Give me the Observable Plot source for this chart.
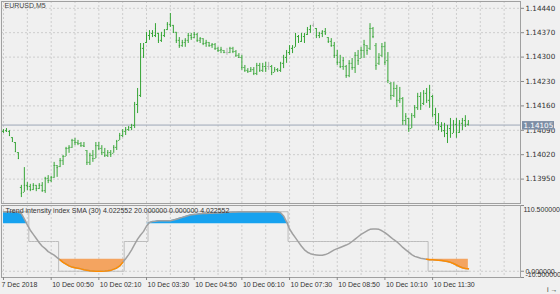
<!DOCTYPE html>
<html><head><meta charset="utf-8">
<script src="https://cdn.jsdelivr.net/npm/d3@7"></script>
<script src="https://cdn.jsdelivr.net/npm/@observablehq/plot@0.6"></script>
<style>
html,body{margin:0;padding:0;background:#f0f0f0;}
#chart{position:relative;width:560px;height:294px;overflow:hidden;}
#chart svg{position:absolute;left:0;}
</style></head><body><div id="chart"></div>
<script>
const symbolLabel = "EURUSD,M5";
const indicatorLabel = "Trend intensity index SMA (30) 4.022552 20.000000 0.000000 4.022552";

const open = [
1.14087,1.14089,1.14087,1.14069,1.14055,1.14026,1.13926,1.13912,1.13932,1.13929,
1.13920,1.13932,1.13923,1.13932,1.13917,1.13952,1.13946,1.13955,1.13989,1.13986,
1.14003,1.14015,1.14038,1.14041,1.14061,1.14055,1.14052,1.14046,1.14032,1.13998,
1.14018,1.14009,1.14046,1.14038,1.14026,1.14018,1.14026,1.14024,1.14041,1.14061,
1.14075,1.14087,1.14092,1.14098,1.14104,1.14164,1.14190,1.14325,1.14342,1.14362,
1.14368,1.14362,1.14368,1.14348,1.14362,1.14379,1.14394,1.14391,1.14371,1.14348,
1.14333,1.14342,1.14348,1.14362,1.14356,1.14365,1.14348,1.14353,1.14339,1.14342,
1.14333,1.14336,1.14325,1.14319,1.14319,1.14313,1.14313,1.14325,1.14316,1.14305,
1.14299,1.14270,1.14262,1.14259,1.14264,1.14253,1.14276,1.14262,1.14273,1.14273,
1.14273,1.14256,1.14264,1.14262,1.14282,1.14299,1.14313,1.14325,1.14328,1.14359,
1.14345,1.14359,1.14365,1.14379,1.14391,1.14382,1.14362,1.14368,1.14373,1.14356,
1.14345,1.14333,1.14305,1.14285,1.14273,1.14273,1.14247,1.14282,1.14270,1.14305,
1.14296,1.14319,1.14333,1.14325,1.14382,1.14333,1.14282,1.14305,1.14330,1.14290,
1.14224,1.14190,1.14210,1.14176,1.14181,1.14118,1.14124,1.14095,1.14132,1.14155,
1.14187,1.14167,1.14196,1.14176,1.14187,1.14135,1.14112,1.14101,1.14089,1.14081,
1.14095,1.14081,1.14107,1.14084,1.14110,1.14118,1.14107];
const high = [
1.14092,1.14095,1.14089,1.14069,1.14055,1.14026,1.13932,1.13983,1.13940,1.13935,
1.13937,1.13932,1.13937,1.13940,1.13955,1.13960,1.13958,1.13998,1.13989,1.14009,
1.14018,1.14041,1.14046,1.14064,1.14067,1.14061,1.14055,1.14055,1.14032,1.14024,
1.14032,1.14055,1.14055,1.14046,1.14038,1.14032,1.14032,1.14046,1.14061,1.14081,
1.14092,1.14098,1.14101,1.14107,1.14170,1.14210,1.14339,1.14339,1.14371,1.14376,
1.14376,1.14396,1.14368,1.14371,1.14379,1.14399,1.14425,1.14391,1.14371,1.14356,
1.14348,1.14353,1.14368,1.14368,1.14371,1.14368,1.14356,1.14353,1.14348,1.14342,
1.14339,1.14339,1.14328,1.14328,1.14319,1.14325,1.14328,1.14328,1.14319,1.14310,
1.14305,1.14276,1.14267,1.14270,1.14270,1.14282,1.14282,1.14282,1.14285,1.14285,
1.14276,1.14270,1.14267,1.14285,1.14305,1.14319,1.14333,1.14333,1.14368,1.14362,
1.14368,1.14368,1.14385,1.14391,1.14396,1.14382,1.14371,1.14376,1.14382,1.14356,
1.14353,1.14342,1.14319,1.14305,1.14299,1.14276,1.14290,1.14296,1.14313,1.14319,
1.14328,1.14348,1.14333,1.14396,1.14385,1.14339,1.14310,1.14339,1.14342,1.14313,
1.14227,1.14227,1.14219,1.14213,1.14184,1.14138,1.14124,1.14138,1.14161,1.14196,
1.14198,1.14204,1.14210,1.14219,1.14190,1.14153,1.14138,1.14112,1.14110,1.14104,
1.14124,1.14118,1.14124,1.14118,1.14124,1.14132,1.14118];
const low = [
1.14081,1.14084,1.14072,1.14055,1.14026,1.14006,1.13897,1.13912,1.13917,1.13914,
1.13917,1.13914,1.13920,1.13912,1.13909,1.13937,1.13940,1.13952,1.13955,1.13983,
1.13989,1.14015,1.14024,1.14038,1.14046,1.14046,1.14041,1.14041,1.13989,1.13989,
1.13998,1.14009,1.14032,1.14018,1.14012,1.14012,1.14012,1.14024,1.14032,1.14061,
1.14069,1.14075,1.14087,1.14089,1.14095,1.14138,1.14184,1.14296,1.14339,1.14348,
1.14356,1.14356,1.14339,1.14342,1.14356,1.14376,1.14385,1.14368,1.14339,1.14325,
1.14328,1.14328,1.14339,1.14348,1.14353,1.14342,1.14339,1.14333,1.14328,1.14328,
1.14325,1.14319,1.14313,1.14310,1.14310,1.14305,1.14310,1.14310,1.14299,1.14296,
1.14262,1.14256,1.14253,1.14256,1.14247,1.14247,1.14256,1.14256,1.14256,1.14262,
1.14247,1.14256,1.14256,1.14256,1.14267,1.14282,1.14305,1.14310,1.14328,1.14339,
1.14342,1.14339,1.14362,1.14368,1.14385,1.14353,1.14353,1.14356,1.14362,1.14339,
1.14328,1.14296,1.14276,1.14267,1.14262,1.14239,1.14241,1.14262,1.14253,1.14276,
1.14296,1.14296,1.14305,1.14319,1.14353,1.14262,1.14276,1.14299,1.14276,1.14224,
1.14176,1.14184,1.14155,1.14167,1.14104,1.14104,1.14084,1.14095,1.14124,1.14147,
1.14147,1.14161,1.14167,1.14153,1.14127,1.14104,1.14089,1.14084,1.14069,1.14052,
1.14067,1.14081,1.14067,1.14081,1.14089,1.14098,1.14104];
const close = [
1.14089,1.14087,1.14075,1.14058,1.14029,1.14009,1.13909,1.13932,1.13929,1.13920,
1.13932,1.13923,1.13932,1.13917,1.13952,1.13946,1.13955,1.13989,1.13983,1.14003,
1.14015,1.14038,1.14041,1.14061,1.14055,1.14052,1.14046,1.14044,1.13998,1.14018,
1.14009,1.14046,1.14038,1.14026,1.14018,1.14026,1.14021,1.14041,1.14058,1.14075,
1.14087,1.14092,1.14098,1.14104,1.14164,1.14190,1.14325,1.14305,1.14362,1.14368,
1.14362,1.14382,1.14348,1.14362,1.14376,1.14394,1.14391,1.14371,1.14348,1.14333,
1.14342,1.14348,1.14362,1.14356,1.14365,1.14348,1.14353,1.14339,1.14342,1.14333,
1.14336,1.14325,1.14319,1.14322,1.14313,1.14313,1.14325,1.14316,1.14305,1.14299,
1.14270,1.14262,1.14259,1.14264,1.14253,1.14276,1.14262,1.14273,1.14267,1.14273,
1.14256,1.14264,1.14262,1.14282,1.14299,1.14313,1.14325,1.14328,1.14359,1.14345,
1.14359,1.14365,1.14379,1.14388,1.14391,1.14362,1.14368,1.14373,1.14368,1.14345,
1.14333,1.14305,1.14285,1.14273,1.14290,1.14247,1.14282,1.14270,1.14305,1.14290,
1.14319,1.14336,1.14319,1.14382,1.14359,1.14276,1.14299,1.14330,1.14285,1.14233,
1.14190,1.14210,1.14176,1.14181,1.14118,1.14130,1.14095,1.14132,1.14155,1.14187,
1.14161,1.14196,1.14176,1.14198,1.14135,1.14112,1.14101,1.14089,1.14081,1.14095,
1.14075,1.14107,1.14084,1.14110,1.14118,1.14107,1.14105];

// Trend intensity index per bar
const tii = [
100,100,100,100,100,99,97,88,78,69,
62,55,48,42,38,33,30,27,23,19,
15,12,9,7,6,5,4,2.5,1.7,1,
0.5,0,0,0,0.3,0.8,1.5,3.5,5.5,9,
15,21,28,36,45,54,61,67,76,82,
83.5,84,85,85,85,85,85,86,87.5,89,
90.5,92,93.5,95,95.5,96,96.5,97,97,97.5,
97.5,97.7,98,98.3,98.6,99,99.2,99.4,99.6,99.8,
100,100,100,100,100,100,100,100,100,100,
100,100,99.5,98.5,93,83,71,63,56,49,
42,36,32,29.5,28,27.5,27,27,28,30,
33,36,38,40,42,44,46.5,50,54,58,
62,65,68,70.5,71,71,70.5,68,65,61,
57,53,49.5,45,40,36,32,28,25,23.5,
22,21,20,19.5,19.2,19,18.5,18,17.3,16.5,
15,13,10.5,8,6,4.8,4.022552];
// trend state line (100 up / 50 neutral / 0 down)
const state = [
100,100,100,100,100,100,100,100,100,50,
50,50,50,50,50,50,50,50,50,0,
0,0,0,0,0,0,0,0,0,0,
0,0,0,0,0,0,0,0,0,0,
0,50,50,50,50,50,50,50,50,100,
100,100,100,100,100,100,100,100,100,100,
100,100,100,100,100,100,100,100,100,100,
100,100,100,100,100,100,100,100,100,100,
100,100,100,100,100,100,100,100,100,100,
100,100,100,100,100,100,50,50,50,50,
50,50,50,50,50,50,50,50,50,50,
50,50,50,50,50,50,50,50,50,50,
50,50,50,50,50,50,50,50,50,50,
50,50,50,50,50,50,50,50,50,50,
50,50,50,0,0,0,0,0,0,0,
0,0,0,0,0,0,0];
const upperLevel = 80;
const lowerLevel = 20;

const priceTicks = [1.13950, 1.14020, 1.14090, 1.14160, 1.14230, 1.14300, 1.14370, 1.14440];
const indTicks = [110.5, 0, -10.5];
const timeTickBars = [0, 16, 32, 48, 64, 80, 96, 112, 128, 144];
const timeTickLabels = ["7 Dec 2018", "10 Dec 00:50", "10 Dec 02:10", "10 Dec 03:30", "10 Dec 04:50",
  "10 Dec 06:10", "10 Dec 07:30", "10 Dec 08:50", "10 Dec 10:10", "10 Dec 11:30"];
const gridBars = [0,8,16,24,32,40,48,56,64,72,80,88,96,104,112,120,128,136,144,152,160,168];

const FONT = "'Liberation Sans', Arial, sans-serif";
const PFONT = "'DejaVu Sans', Verdana, sans-serif";
const bars = open.map((o, i) => ({i, open: o, high: high[i], low: low[i], close: close[i]}));
const rows = tii.map((v, i) => ({i, tii: v, state: state[i]}));
const timeRows = timeTickBars.map((b, k) => ({i: b, label: timeTickLabels[k]}));
const lastClose = close[close.length - 1];
const barColor = d => d.open === d.close ? "#b4b4b4" : "#36a536";
const grid = {stroke: "#cdcdcd", strokeDasharray: "2,2"};
const xDomain = [-0.67, 173.5];
const baseStyle = {background: "transparent", fontFamily: FONT, fontSize: "7px", color: "#333", overflow: "visible"};

const main = Plot.plot({
  width: 560, height: 205,
  marginTop: 1, marginBottom: 2, marginLeft: 1, marginRight: 40,
  style: baseStyle,
  x: {domain: xDomain, axis: null},
  y: {domain: [1.13880, 1.144595], axis: null},
  marks: [
    Plot.ruleX(gridBars, grid),
    Plot.ruleY(priceTicks, grid),
    Plot.ruleY([lastClose], {stroke: "#9ca6b6"}),
    Plot.ruleX(bars, {x: "i", y1: "low", y2: "high", stroke: barColor}),
    Plot.ruleY(bars, {y: "open", x1: d => d.i - 0.34, x2: "i", stroke: barColor}),
    Plot.ruleY(bars, {y: "close", x1: "i", x2: d => d.i + 0.34, stroke: barColor}),
    Plot.frame({stroke: "#a0a0a0"}),
    Plot.axisY(priceTicks, {anchor: "right", tickSize: 3, tickPadding: 2, tickFormat: d => d.toFixed(5),
      fontSize: 7.2, fontFamily: PFONT, stroke: "#888"}),
    Plot.text([symbolLabel], {frameAnchor: "top-left", dx: 3, dy: 2, lineAnchor: "top", textAnchor: "start", fontSize: 7, fill: "#444"})
  ]
});
main.style.top = "0px";

// current price box on the price axis
{
  const yb = main.scale("y").apply(lastClose);
  const xr = main.scale("x").range[1];
  const s = d3.select(main).append("g");
  s.append("rect").attr("x", xr + 2).attr("y", yb - 3.5).attr("width", 32).attr("height", 8.5).attr("fill", "#7d8ea5");
  s.append("text").attr("x", xr + 3.5).attr("y", yb + 0.8).attr("dy", "0.35em").attr("fill", "#ffffff")
    .attr("text-anchor", "start").attr("font-size", 7.2).attr("font-family", PFONT).text(lastClose.toFixed(5));
}

const ind = Plot.plot({
  width: 560, height: 94,
  marginTop: 5, marginBottom: 17, marginLeft: 1, marginRight: 40,
  style: baseStyle,
  x: {domain: xDomain, axis: null},
  y: {domain: [-10.5, 110.5], axis: null},
  marks: [
    Plot.ruleX(gridBars, grid),
    Plot.ruleY([0], grid),
    Plot.areaY(rows, {x: "i", y1: upperLevel, y2: d => Math.max(d.tii, upperLevel), fill: "#17a2ef"}),
    Plot.areaY(rows, {x: "i", y1: d => Math.min(d.tii, lowerLevel), y2: lowerLevel, fill: "#f4a460"}),
    Plot.line(rows, {x: "i", y: "state", curve: "step", stroke: "#bcbcbc", strokeWidth: 1}),
    Plot.line(rows, {x: "i", y: "tii", stroke: "#a0a0a0", strokeWidth: 1.5}),
    Plot.line(rows, {x: "i", y: d => d.tii <= lowerLevel ? d.tii : NaN, stroke: "#ff8c00", strokeWidth: 1.5}),
    Plot.frame({stroke: "#a0a0a0"}),
    Plot.axisX(timeTickBars, {tickSize: 3, stroke: "#888", tickFormat: () => ""}),
    Plot.text(timeRows.slice(0, 1), {x: "i", text: "label", frameAnchor: "bottom", dy: 9, dx: -2, textAnchor: "start", fontSize: 7}),
    Plot.text(timeRows.slice(1), {x: "i", text: "label", frameAnchor: "bottom", dy: 9, dx: 1, textAnchor: "start", fontSize: 7}),
    Plot.axisY(indTicks, {anchor: "right", tickSize: 3, stroke: "#888", tickFormat: () => ""}),
    Plot.text([indTicks[0]], {y: d => d, frameAnchor: "right", dx: 3, dy: 4, textAnchor: "start", text: d => d.toFixed(6), fontSize: 7}),
    Plot.text([indTicks[1]], {y: d => d, frameAnchor: "right", dx: 5, textAnchor: "start", text: d => d.toFixed(6), fontSize: 7}),
    Plot.text([indTicks[2]], {y: d => d, frameAnchor: "right", dx: 5, dy: -3, textAnchor: "start", text: d => d.toFixed(6), fontSize: 7}),
    Plot.text([indicatorLabel], {frameAnchor: "top-left", dx: 4, dy: 3, lineAnchor: "top", textAnchor: "start", fontSize: 7, fill: "#333"})
  ]
});
ind.style.top = "200px";

const chart = document.getElementById("chart");
chart.appendChild(ind);
chart.appendChild(main);
</script></body></html>
